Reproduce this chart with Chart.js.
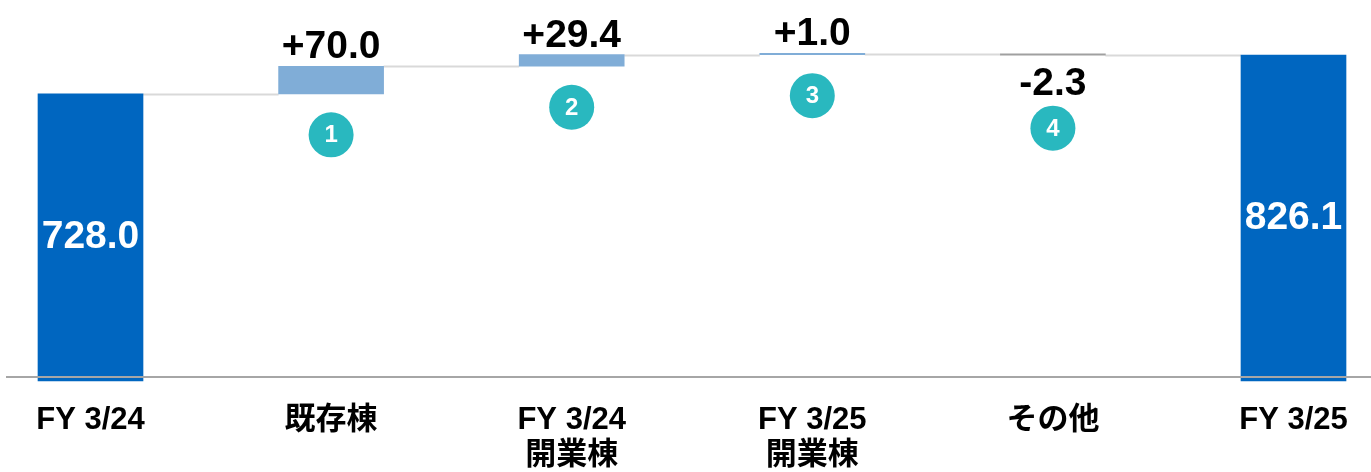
<!DOCTYPE html>
<html><head><meta charset="utf-8">
<script src="https://cdn.jsdelivr.net/npm/chart.js@4"></script>
<style>html,body{margin:0;padding:0;background:#fff;overflow:hidden}#wrap{width:1371px;height:472px;position:relative}</style>
</head><body><div id="wrap"><canvas id="c"></canvas></div>
<script>
// ---- data ----
const categories = [['FY 3/24'], ['既存棟'], ['FY 3/24', '開業棟'], ['FY 3/25', '開業棟'], ['その他'], ['FY 3/25']];
const startTotal = 728.0;
const changes = [70.0, 29.4, 1.0, -2.3];
const endTotal = 826.1;
const markerNumbers = ['1', '2', '3', '4'];

// ---- build floating ranges ----
const ranges = [[0, startTotal]];
let level = startTotal;
changes.forEach(d => { ranges.push([level, level + d]); level += d; });
ranges.push([0, endTotal]);
const isTotal = ranges.map((r, i) => i === 0 || i === ranges.length - 1);
const signed = [startTotal, ...changes, endTotal];

const DARK = '#0066C0', LIGHT = '#80ADD7', NEG = '#A0A0A0', TEAL = '#29B8BF';
const colors = signed.map((v, i) => isTotal[i] ? DARK : (v >= 0 ? LIGHT : NEG));
const FONT = '"Liberation Sans", Arial, "Noto Sans CJK JP", sans-serif';

const waterfallPlugin = {
  id: 'waterfall',
  beforeDatasetsDraw(chart) {
    const ctx = chart.ctx, meta = chart.getDatasetMeta(0), y = chart.scales.y;
    ctx.save();
    ctx.strokeStyle = '#D9D9D9';
    ctx.lineWidth = 2;
    for (let i = 0; i < meta.data.length - 1; i++) {
      const a = meta.data[i], b = meta.data[i + 1];
      const py = Math.round(y.getPixelForValue(ranges[i][1])) + 0.5;
      ctx.beginPath();
      ctx.moveTo(a.x + a.width / 2, py);
      ctx.lineTo(b.x - b.width / 2, py);
      ctx.stroke();
    }
    ctx.restore();
  },
  afterDatasetsDraw(chart) {
    const ctx = chart.ctx, meta = chart.getDatasetMeta(0), area = chart.chartArea;
    ctx.save();
    // baseline
    ctx.strokeStyle = '#A6A6A6';
    ctx.lineWidth = 2;
    ctx.beginPath();
    ctx.moveTo(6, area.bottom - 4);
    ctx.lineTo(chart.width, area.bottom - 4);
    ctx.stroke();
    // labels
    ctx.textAlign = 'center';
    let m = 0;
    meta.data.forEach((bar, i) => {
      const top = Math.min(bar.y, bar.base), bottom = Math.max(bar.y, bar.base);
      const v = signed[i];
      if (isTotal[i]) {
        ctx.fillStyle = '#FFFFFF';
        ctx.font = 'bold 39px ' + FONT;
        ctx.textBaseline = 'middle';
        ctx.fillText(v.toFixed(1), bar.x, (top + bottom) / 2);
        return;
      }
      const txt = (v >= 0 ? '+' : '') + v.toFixed(1);
      ctx.fillStyle = '#000000';
      ctx.font = 'bold 39px ' + FONT;
      ctx.textBaseline = 'alphabetic';
      let cy;
      if (v >= 0) {
        ctx.fillText(txt, bar.x, top - 8);
        cy = bottom + 41;
      } else {
        ctx.fillText(txt, bar.x, bottom + 40);
        cy = bottom + 73;
      }
      ctx.fillStyle = TEAL;
      ctx.beginPath();
      ctx.arc(bar.x, cy, 22.5, 0, Math.PI * 2);
      ctx.fill();
      ctx.fillStyle = '#FFFFFF';
      ctx.font = 'bold 24px ' + FONT;
      ctx.textBaseline = 'middle';
      ctx.fillText(markerNumbers[m++], bar.x, cy + 1);
    });
    ctx.restore();
  }
};

new Chart(document.getElementById('c'), {
  type: 'bar',
  data: {
    labels: categories,
    datasets: [{
      data: ranges,
      backgroundColor: colors,
      borderWidth: 0,
      barThickness: 105,
      minBarLength: 1.2,
      clip: false
    }]
  },
  options: {
    responsive: true,
    maintainAspectRatio: false,
    animation: false,
    layout: { padding: { left: 90.5, right: 77.5, top: 26, bottom: 0 } },
    plugins: { legend: { display: false }, tooltip: { enabled: false } },
    scales: {
      x: {
        type: 'category',
        offset: false,
        grid: { display: false, drawTicks: false },
        border: { display: false },
        ticks: {
          color: '#000000',
          font: { family: FONT, size: 31, weight: 'bold', lineHeight: 1.13 },
          padding: 22,
          maxRotation: 0,
          autoSkip: false
        },
        afterFit(s) { s.height = 91; }
      },
      y: { display: false, min: 0, max: 900 }
    }
  },
  plugins: [waterfallPlugin]
});
</script>
</body></html>
